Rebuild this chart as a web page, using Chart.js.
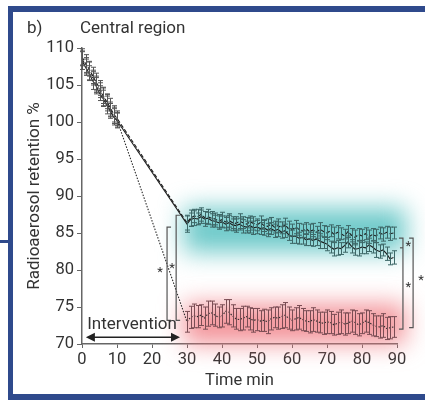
<!DOCTYPE html>
<html>
<head>
<meta charset="utf-8">
<script src="https://cdn.jsdelivr.net/npm/chart.js@4.4.1/dist/chart.umd.min.js"></script>
<style>
  body { margin: 0; background: #fff; }
  canvas { display: block; }
</style>
</head>
<body>
<canvas id="Grafica1" width="425" height="404"></canvas>
<script>
// datos (minutos, % retencion)
var tiempos = [0,1,2,3,4,5,6,7,8,9,10,
  30,31,32,33,34,35,36,37,38,39,40,41,42,43,44,45,46,47,48,49,
  50,51,52,53,54,55,56,57,58,59,60,61,62,63,64,65,66,67,68,69,
  70,71,72,73,74,75,76,77,78,79,80,81,82,83,84,85,86,87,88,89];

var serieSolida = [108.3,107.4,106.6,105.6,104.9,103.9,103.2,102.3,101.5,100.7,100.2,
  86.2,86.8,87.0,86.9,87.2,86.9,87.0,86.7,86.6,86.4,86.5,86.2,86.4,86.1,86.0,86.2,85.9,85.8,86.0,85.7,
  85.8,85.6,85.7,85.4,85.6,85.3,85.5,85.1,85.3,84.8,84.5,84.6,84.3,84.4,84.1,84.2,84.0,84.2,83.9,83.7,
  83.5,83.1,82.8,83.0,82.9,83.3,83.8,83.2,82.8,82.9,83.1,83.0,83.4,83.1,82.7,82.5,82.7,82.2,81.5,81.7];

var serieDiscontinua = [108.8,107.9,107.2,106.3,105.4,104.6,103.6,102.8,102.0,101.1,100.5,
  86.4,87.0,87.3,87.2,87.5,87.1,87.2,87.0,86.9,86.6,86.8,86.5,86.7,86.4,86.3,86.6,86.4,86.2,86.5,86.3,
  86.1,86.4,86.0,85.9,86.2,85.8,86.0,85.7,86.1,85.6,85.4,85.8,85.5,85.3,85.6,85.2,85.4,85.1,85.5,85.2,
  85.0,85.3,84.8,85.1,84.9,84.6,85.2,84.7,84.4,84.8,84.6,84.9,84.5,84.8,84.6,85.0,84.8,85.1,84.9,85.0];

var seriePunteada = [108.6,107.6,106.9,106.0,105.1,104.3,103.4,102.6,101.7,100.9,100.3,
  73.0,73.6,73.8,73.7,73.9,73.5,74.1,74.2,73.9,73.6,73.8,74.4,74.3,73.8,73.4,73.3,73.5,73.7,73.4,73.2,
  73.3,73.1,73.2,73.0,73.4,73.6,73.5,73.7,73.9,73.5,73.2,73.4,73.6,73.3,73.1,73.0,73.3,73.1,72.9,72.8,
  73.0,72.9,72.6,72.8,73.0,72.7,72.8,73.1,72.9,72.6,72.8,73.1,72.9,72.6,72.4,72.3,72.5,72.1,72.2,72.3];

// media amplitud de las barras de error
var errSolida = [1.2,1.1,1.0,1.2,1.1,1.0,1.1,1.2,1.0,1.1,1.0,
  1.1,0.9,1.0,0.8,0.9,1.0,0.8,0.9,0.8,0.9,0.8,0.9,1.0,0.8,0.9,0.8,0.9,0.8,1.0,0.9,
  0.9,0.8,1.0,0.9,0.8,0.9,1.0,0.8,0.9,0.8,0.9,1.0,0.8,0.9,0.8,0.9,0.8,0.9,1.0,0.8,
  0.9,0.8,0.9,1.0,0.8,0.9,0.8,0.9,0.8,1.0,0.9,0.8,0.9,0.8,1.0,0.9,0.8,0.9,0.8,0.9];

var errDiscontinua = [1.1,1.2,1.0,1.1,1.2,1.0,1.1,1.0,1.2,1.1,1.0,
  1.0,1.1,0.9,1.0,0.9,0.8,1.0,0.9,0.8,0.9,1.0,0.8,0.9,0.8,0.9,1.0,0.8,0.9,0.8,0.9,
  0.8,0.9,0.8,1.0,0.9,0.8,0.9,0.8,0.9,1.0,0.8,0.9,0.8,0.9,0.8,1.0,0.9,0.8,0.9,0.8,
  0.9,0.8,1.0,0.9,0.8,0.9,0.8,0.9,1.0,0.8,0.9,0.8,0.9,0.8,0.9,0.8,0.9,0.8,0.9,0.8];

var errPunteada = [1.0,1.1,1.2,1.0,1.1,1.0,1.2,1.1,1.0,1.1,1.0,
  1.4,1.5,1.6,1.5,1.4,1.5,1.7,1.6,1.5,1.4,1.5,1.6,1.7,1.5,1.4,1.5,1.6,1.4,1.5,1.6,
  1.5,1.4,1.5,1.6,1.5,1.4,1.5,1.6,1.7,1.5,1.4,1.5,1.6,1.5,1.4,1.5,1.6,1.5,1.4,1.5,
  1.6,1.5,1.4,1.5,1.6,1.5,1.4,1.5,1.6,1.5,1.4,1.5,1.6,1.5,1.4,1.5,1.6,1.5,1.5,1.4];

var ticksY = [70,75,80,85,90,95,100,105,110];
var ticksX = [0,10,20,30,40,50,60,70,80,90];

function puntos(valores) {
  var res = [];
  for (var i in tiempos) {
    res.push({ x: tiempos[i], y: valores[i] });
  }
  return res;
}

var fuente = 'Roboto, "Liberation Sans", sans-serif';
var gris = '#333';

// manchas de color detras de los grupos
var pluginFondo = {
  id: 'fondo',
  beforeDraw: function (chart) {
    var ctx = chart.ctx;
    ctx.save();
    ctx.fillStyle = '#fff';
    ctx.fillRect(0, 0, chart.width, chart.height);
    ctx.restore();
  },
  beforeDatasetsDraw: function (chart) {
    var ctx = chart.ctx, sx = chart.scales.x, sy = chart.scales.y;
    var bandas = [
      { x0: 29, x1: 92.5, y0: 88.4, y1: 82.4, color: 'rgba(95,196,196,0.9)' },
      { x0: 29, x1: 92.5, y0: 75.4, y1: 70.0, color: 'rgba(240,118,126,0.78)' }
    ];
    ctx.save();
    ctx.filter = 'blur(12px)';
    bandas.forEach(function (b) {
      var x0 = sx.getPixelForValue(b.x0), x1 = sx.getPixelForValue(b.x1);
      var y0 = sy.getPixelForValue(b.y0), y1 = sy.getPixelForValue(b.y1);
      ctx.fillStyle = b.color;
      ctx.fillRect(x0, y0, x1 - x0, y1 - y0);
    });
    ctx.restore();
  }
};

// barras de error con sus topes
var pluginError = {
  id: 'errores',
  afterDatasetsDraw: function (chart) {
    var ctx = chart.ctx, sx = chart.scales.x, sy = chart.scales.y;
    ctx.save();
    ctx.lineWidth = 1;
    chart.data.datasets.forEach(function (ds) {
      ds.errores.forEach(function (e, i) {
        var t = tiempos[i];
        var v = ds.data[i].y;
        var px = Math.round(sx.getPixelForValue(t)) + 0.5;
        var yA = sy.getPixelForValue(v + e), yB = sy.getPixelForValue(v - e);
        ctx.strokeStyle = t < 20 ? '#555' : ds.colorError;
        ctx.beginPath();
        ctx.moveTo(px, yA); ctx.lineTo(px, yB);
        ctx.moveTo(px - 2.5, yA); ctx.lineTo(px + 2.5, yA);
        ctx.moveTo(px - 2.5, yB); ctx.lineTo(px + 2.5, yB);
        ctx.stroke();
      });
    });
    ctx.restore();
  }
};

// textos, corchetes, asteriscos, flecha y marco
var pluginNotas = {
  id: 'notas',
  afterDraw: function (chart) {
    var ctx = chart.ctx, sx = chart.scales.x, sy = chart.scales.y;
    ctx.save();

    // marco azul
    ctx.fillStyle = '#2f4a8c';
    ctx.fillRect(8, 6, 417, 6);
    ctx.fillRect(8, 6, 5, 394);
    ctx.fillRect(8, 394, 417, 6);
    ctx.fillRect(0, 240, 12, 3);

    ctx.fillStyle = gris;
    ctx.font = '17px ' + fuente;
    ctx.textBaseline = 'middle';
    ctx.textAlign = 'left';
    ctx.fillText('b)', 27, 29);
    ctx.fillText('Central region', 80, 29);

    // corchetes de significancia
    var corchetes = [
      { x: 24.3, a: 85.8, b: 73.2, dir: 1 },
      { x: 26.9, a: 87.4, b: 73.2, dir: 1 },
      { x: 91.7, a: 84.3, b: 72.0, dir: -1 },
      { x: 94.6, a: 84.3, b: 72.2, dir: -1 }
    ];
    ctx.strokeStyle = '#555';
    ctx.lineWidth = 1.2;
    corchetes.forEach(function (c) {
      var px = sx.getPixelForValue(c.x);
      var ya = sy.getPixelForValue(c.a), yb = sy.getPixelForValue(c.b);
      ctx.beginPath();
      ctx.moveTo(px + 4 * c.dir, ya); ctx.lineTo(px, ya);
      ctx.lineTo(px, yb); ctx.lineTo(px + 4 * c.dir, yb);
      ctx.stroke();
    });
    // marca pequena del corchete interior
    var pm = sx.getPixelForValue(91.7), ym = sy.getPixelForValue(83.0);
    ctx.beginPath(); ctx.moveTo(pm - 3, ym); ctx.lineTo(pm, ym); ctx.stroke();

    var asteriscos = [[22.3, 80.0], [25.7, 80.6], [93.2, 83.6], [93.2, 78.0], [96.9, 79.0]];
    ctx.font = '13px ' + fuente;
    ctx.textAlign = 'center';
    asteriscos.forEach(function (a) {
      ctx.fillText('*', sx.getPixelForValue(a[0]), sy.getPixelForValue(a[1]) + 3);
    });

    // flecha de intervencion
    var x0 = sx.getPixelForValue(1.1), x1 = sx.getPixelForValue(28.0);
    var yf = sy.getPixelForValue(70.9);
    ctx.strokeStyle = '#222';
    ctx.fillStyle = '#222';
    ctx.lineWidth = 1.5;
    ctx.beginPath(); ctx.moveTo(x0 + 6, yf); ctx.lineTo(x1 - 6, yf); ctx.stroke();
    ctx.beginPath(); ctx.moveTo(x0, yf); ctx.lineTo(x0 + 9, yf - 4.5); ctx.lineTo(x0 + 9, yf + 4.5); ctx.fill();
    ctx.beginPath(); ctx.moveTo(x1, yf); ctx.lineTo(x1 - 9, yf - 4.5); ctx.lineTo(x1 - 9, yf + 4.5); ctx.fill();
    ctx.fillStyle = gris;
    ctx.font = '17px ' + fuente;
    ctx.fillText('Intervention', sx.getPixelForValue(14.3), sy.getPixelForValue(72.6));

    ctx.restore();
  }
};

var ctx = document.getElementById('Grafica1').getContext('2d');
var myChart = new Chart(ctx, {
  type: 'line',
  data: {
    datasets: [
      {
        label: 'Solid',
        data: puntos(serieSolida),
        errores: errSolida,
        colorError: '#3d6767',
        borderColor: '#1e1e1e',
        borderWidth: 1.1,
        pointRadius: 0
      },
      {
        label: 'Dashed',
        data: puntos(serieDiscontinua),
        errores: errDiscontinua,
        colorError: '#3d6767',
        borderColor: '#1e1e1e',
        borderWidth: 1.1,
        borderDash: [4, 2],
        pointRadius: 0
      },
      {
        label: 'Dotted',
        data: puntos(seriePunteada),
        errores: errPunteada,
        colorError: '#7a4d54',
        borderColor: '#2a2a2a',
        borderWidth: 1.1,
        borderDash: [1.5, 1.5],
        pointRadius: 0
      }
    ]
  },
  options: {
    responsive: false,
    animation: false,
    layout: { padding: { top: 48, right: 28, bottom: 0, left: 0 } },
    plugins: { legend: { display: false }, tooltip: { enabled: false } },
    scales: {
      x: {
        type: 'linear',
        min: 0,
        max: 90,
        afterFit: function (s) { s.height = 60; },
        afterBuildTicks: function (s) { s.ticks = ticksX.map(function (v) { return { value: v }; }); },
        grid: { display: true, drawOnChartArea: false, drawTicks: true, tickLength: 4, color: '#666' },
        border: { display: true, color: '#666', width: 1.5 },
        ticks: { color: gris, padding: 2, font: { family: fuente, size: 16.5 } },
        title: { display: true, text: 'Time min', color: gris, padding: { top: 0, bottom: 13 }, font: { family: fuente, size: 16.5 } }
      },
      y: {
        min: 70,
        max: 110,
        afterFit: function (s) { s.width = 82; },
        afterBuildTicks: function (s) { s.ticks = ticksY.map(function (v) { return { value: v }; }); },
        grid: { display: true, drawOnChartArea: false, drawTicks: true, tickLength: 5, color: '#666' },
        border: { display: true, color: '#666', width: 1.5 },
        ticks: { color: gris, padding: 3, font: { family: fuente, size: 16.5 } },
        title: { display: true, text: 'Radioaerosol retention %', color: gris, padding: { top: 25, bottom: 0 }, font: { family: fuente, size: 17 } }
      }
    }
  },
  plugins: [pluginFondo, pluginError, pluginNotas]
});
</script>
</body>
</html>
